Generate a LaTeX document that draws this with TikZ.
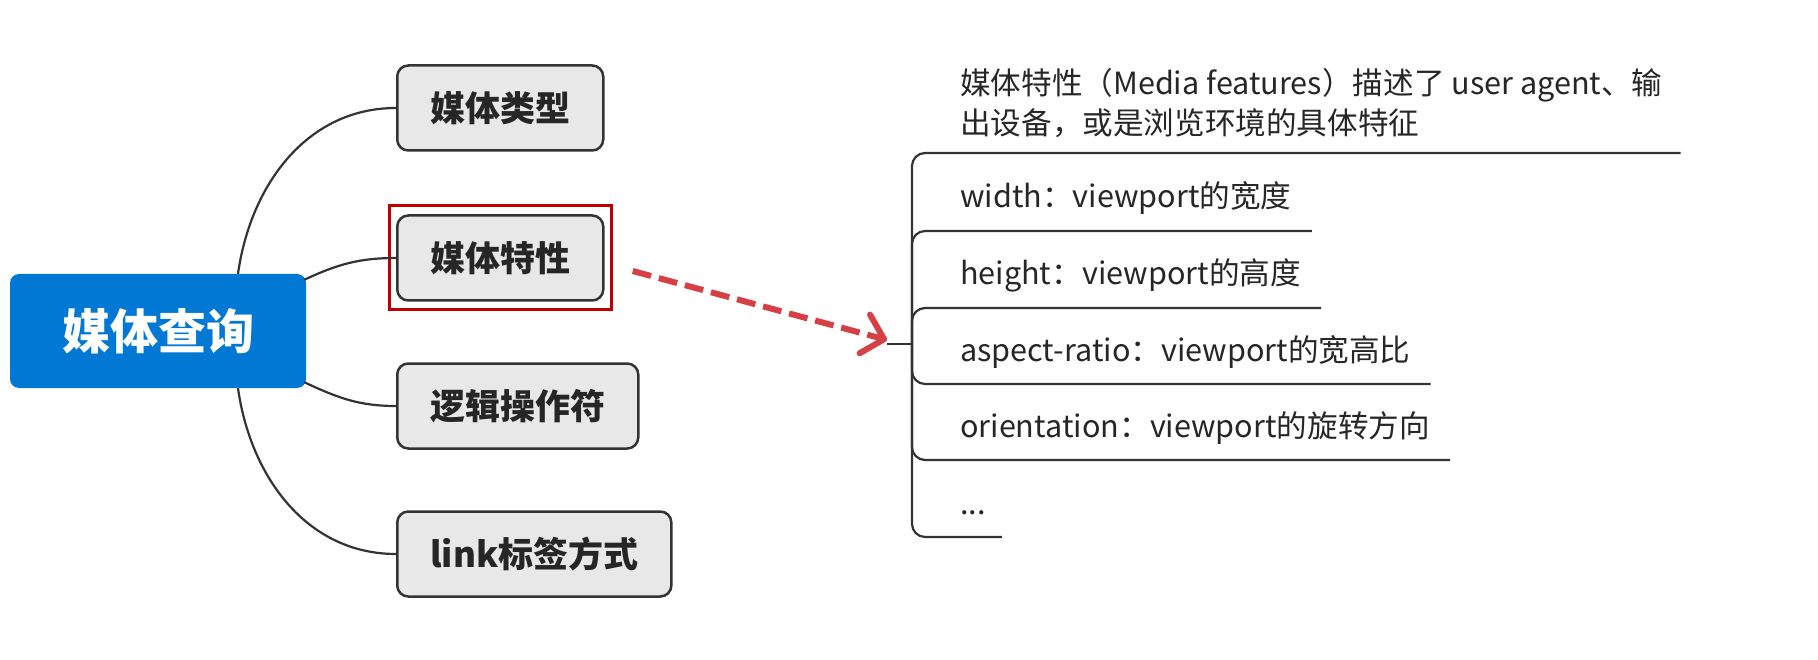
\documentclass[tikz,border=0pt]{standalone}
\usepackage{fontspec}
\setmainfont{Noto Sans CJK SC}
\usetikzlibrary{arrows.meta,calc}
\definecolor{rootblue}{RGB}{0,120,212}
\definecolor{boxgray}{RGB}{232,232,232}
\definecolor{edgegray}{RGB}{51,51,51}
\definecolor{hlred}{RGB}{192,0,0}
\definecolor{arrowred}{RGB}{214,64,69}
\begin{document}
\begin{tikzpicture}[x=1pt,y=-1pt,
  rootbox/.style={fill=rootblue, draw=none, rounded corners=9pt, text=white,
    font=\fontsize{48}{52}\selectfont\bfseries, minimum width=296pt, minimum height=114pt},
  topic/.style={fill=boxgray, draw=edgegray, line width=2.5pt, rounded corners=11pt,
    font=\fontsize{35}{40}\selectfont\bfseries, text=black!85, minimum height=85pt,
    inner xsep=33pt, anchor=west},
  branch/.style={draw=edgegray, line width=2.2pt},
  item/.style={anchor=west, inner sep=0pt, text height=23pt, text depth=7pt,
    font=\fontsize{30.6}{40}\selectfont, text=black!85},
  uline/.style={draw=edgegray, line width=2.2pt, rounded corners=13pt},
  hilite/.style={draw=hlred, line width=3pt, minimum width=222pt, minimum height=104pt},
  callout/.style={draw=arrowred, line width=6pt, dash pattern=on 19pt off 8pt,
    -{Straight Barb[round,length=20pt,width=40pt]}}
]
\useasboundingbox (0,0) rectangle (1818,660);
% left mind map
\node[rootbox] (root) at (158,331) {媒体查询};
\node[topic] (t1) at (396,108) {媒体类型};
\node[topic] (t2) at (396,258) {媒体特性};
\node[topic] (t3) at (396,406) {逻辑操作符};
\node[topic] (t4) at (396,554) {link标签方式};
\node[hilite] (hl) at (t2.center) {};
\draw[branch] ([xshift=80pt]root.north) to[out=82,in=180] (t1.west);
\draw[branch] ([xshift=-2pt,yshift=-6pt]root.north east) to[out=25,in=180] (t2.west);
\draw[branch] ([xshift=-2pt,yshift=6pt]root.south east) to[out=-25,in=180] (t3.west);
\draw[branch] ([xshift=80pt]root.south) to[out=-82,in=180] (t4.west);
% right detail list
\coordinate (hub) at (912,344);
\coordinate (stub) at (887,344);
\node[item, align=left, text height=, text depth=] (d0) at (960,103)
  {媒体特性（Media features）描述了 user agent、输\\出设备，或是浏览环境的具体特征};
\node[item] (d1) at (960,200) {width：viewport的宽度};
\node[item] (d2) at (960,277) {height：viewport的高度};
\node[item] (d3) at (960,353) {aspect-ratio：viewport的宽高比};
\node[item] (d4) at (960,429) {orientation：viewport的旋转方向};
\node[item] (d5) at (960,506) {...};
\draw[branch] (stub) -- (hub);
\draw[uline] (hub) |- ([xshift=18pt,yshift=-50pt]d0.east);
\draw[uline] (hub) |- ([xshift=20pt,yshift=-31pt]d1.east);
\draw[uline] (hub) |- ([xshift=20pt,yshift=-31pt]d2.east);
\draw[uline] (hub) |- ([xshift=20pt,yshift=-31pt]d3.east);
\draw[uline] (hub) |- ([xshift=20pt,yshift=-31pt]d4.east);
\draw[uline] (hub) |- ([xshift=16pt,yshift=-31pt]d5.east);
% callout arrow
\draw[callout] ([xshift=20pt,yshift=-13pt]hl.east) -- ([yshift=4pt]stub);
\end{tikzpicture}
\end{document}
